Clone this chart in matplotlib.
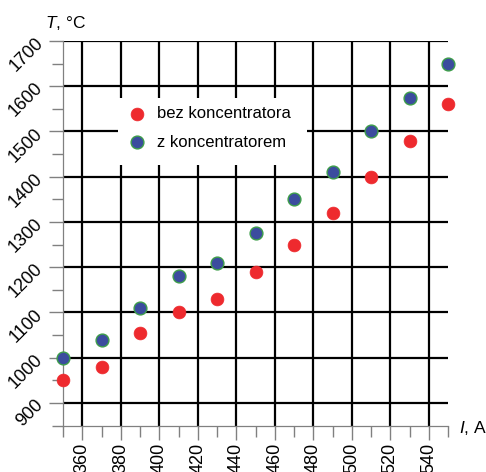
import matplotlib
matplotlib.use("Agg")
import matplotlib.pyplot as plt
from matplotlib.ticker import FixedLocator
from matplotlib.patches import Rectangle

plt.rcParams['font.family'] = ['Liberation Sans', 'DejaVu Sans']
plt.rcParams['mathtext.fontset'] = 'custom'
plt.rcParams['mathtext.rm'] = 'Liberation Sans'
plt.rcParams['mathtext.it'] = 'Liberation Sans:italic'

# Current I, A
current = [350, 370, 390, 410, 430, 450, 470, 490, 510, 530, 550]
# Temperature T, °C
temp_without = [950, 980, 1055, 1100, 1130, 1190, 1250, 1320, 1400, 1480, 1560]
temp_with = [1000, 1040, 1110, 1180, 1210, 1275, 1350, 1410, 1500, 1575, 1650]
labels = ["bez koncentratora", "z koncentratorem"]

x_major = [360, 380, 400, 420, 440, 460, 480, 500, 520, 540]
y_major = [900, 1000, 1100, 1200, 1300, 1400, 1500, 1600, 1700]

W, H = 486, 472
fig = plt.figure(figsize=(W / 100, H / 100), dpi=100)
ax = fig.add_axes([63 / W, (H - 425.5) / H, (448 - 63) / W, (425.5 - 41) / H])

gray = '#808080'
red = '#EE2A2E'
blue = '#3B4C9E'
green = '#3E9E4A'

ax.set_xlim(350, 550)
ax.set_ylim(850, 1700)
ax.xaxis.set_major_locator(FixedLocator(x_major))
ax.xaxis.set_minor_locator(FixedLocator([v - 10 for v in x_major] + [550]))
ax.yaxis.set_major_locator(FixedLocator(y_major))
ax.yaxis.set_minor_locator(FixedLocator([v - 50 for v in y_major]))

ax.grid(True, which='major', color='black', linewidth=1.6, zorder=1)
ax.set_axisbelow(True)

for s in ('top', 'right'):
    ax.spines[s].set_visible(False)
for s in ('left', 'bottom'):
    ax.spines[s].set_color(gray)
    ax.spines[s].set_linewidth(0.9)

ax.tick_params(which='major', length=10, width=1.0, color=gray, labelsize=13)
ax.tick_params(which='minor', length=8, width=1.0, color=gray)
ax.tick_params(axis='x', which='major', pad=2.5, labelrotation=90)
ax.tick_params(axis='y', which='major', pad=2, labelrotation=45)

ax.scatter(current, temp_without, s=85, color=red, edgecolors=red, linewidths=0.5,
           zorder=3, label=labels[0], clip_on=False)
ax.scatter(current, temp_with, s=85, color=blue, edgecolors=green, linewidths=1.0,
           zorder=3, label=labels[1], clip_on=False)

# white backing behind the legend, hiding the grid there
ax.add_patch(Rectangle((118 / W, 1 - 165 / H), (307 - 118) / W, (165 - 98) / H,
                       transform=fig.transFigure, facecolor='white',
                       edgecolor='none', zorder=3.5, clip_on=False))

leg = ax.legend(loc='upper left', bbox_to_anchor=(119 / W, 1 - 98 / H),
                bbox_transform=fig.transFigure, frameon=False,
                fontsize=12, handletextpad=0.6, labelspacing=0.8,
                borderpad=0.5, borderaxespad=0, handlelength=1.2)
leg.set_zorder(4)

fig.text(45 / W, 1 - 28 / H, '$T$, °C', fontsize=12.5, ha='left', va='baseline')
fig.text(459 / W, 1 - 428 / H, '$I$, A', fontsize=12.5, ha='left', va='center')

fig.savefig('out.png', dpi=100)
